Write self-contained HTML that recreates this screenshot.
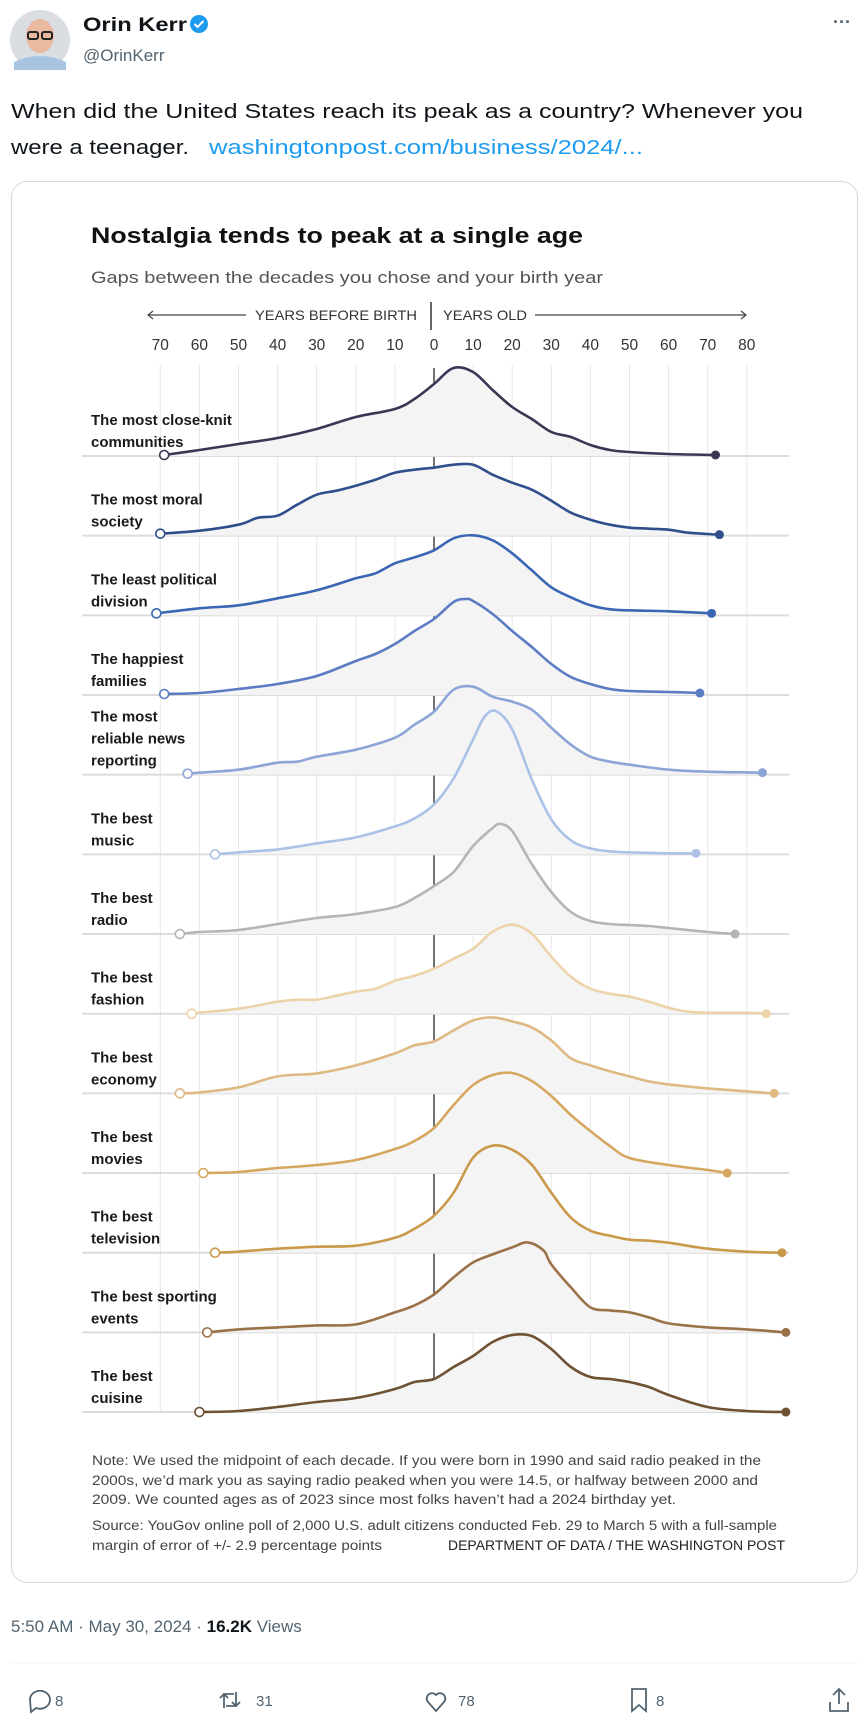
<!DOCTYPE html>
<html><head><meta charset="utf-8"><style>
html,body{margin:0;padding:0;background:#fff;}
svg{display:block;font-family:"Liberation Sans",sans-serif;}
</style></head><body>
<svg id="root" width="868" height="1725" viewBox="0 0 868 1725" xmlns="http://www.w3.org/2000/svg">
<g>
  <g>
    <circle cx="40" cy="40" r="30" fill="#d9dde2"/>
    <ellipse cx="40" cy="36" rx="14" ry="17" fill="#e9b9a0"/>
    <path d="M14 62 Q40 50 66 62 L66 70 L14 70Z" fill="#a9c4e0"/>
    <rect x="28" y="32" width="10" height="7" rx="2" fill="none" stroke="#222" stroke-width="2"/>
    <rect x="42" y="32" width="10" height="7" rx="2" fill="none" stroke="#222" stroke-width="2"/>
  </g>
  <text x="83" y="31" font-size="19" font-weight="bold" fill="#0f1419" textLength="104" lengthAdjust="spacingAndGlyphs">Orin Kerr</text>
  <g>
    <circle cx="199" cy="24" r="9" fill="#1d9bf0"/>
    <path d="M194.5 24 l3 3 l6 -6" stroke="#fff" stroke-width="2" fill="none"/>
  </g>
  <text x="83" y="61" font-size="17" fill="#536471">@OrinKerr</text>
  <text x="842" y="28" font-size="18" fill="#536471" text-anchor="middle" font-weight="bold">···</text>
</g>
<g>
  <text x="11" y="118" font-size="20.5" fill="#0f1419" textLength="792" lengthAdjust="spacingAndGlyphs">When did the United States reach its peak as a country? Whenever you</text>
  <text x="11" y="154" font-size="20.5" fill="#0f1419" textLength="178" lengthAdjust="spacingAndGlyphs">were a teenager.</text>
  <text x="209" y="154" font-size="20.5" fill="#1d9bf0" textLength="434" lengthAdjust="spacingAndGlyphs">washingtonpost.com/business/2024/...</text>
</g>
<rect x="11.5" y="181.5" width="846" height="1401" rx="16" fill="#fff" stroke="#cfd9de"/>
<g id="chart">
  <text x="91" y="243" font-size="22" font-weight="bold" fill="#111" textLength="492" lengthAdjust="spacingAndGlyphs">Nostalgia tends to peak at a single age</text>
  <text x="91" y="283" font-size="16.5" fill="#555" textLength="512" lengthAdjust="spacingAndGlyphs">Gaps between the decades you chose and your birth year</text>
  <g stroke="#444" stroke-width="1.2" fill="none">
    <line x1="148" y1="315" x2="246" y2="315"/>
    <path d="M153 311 L148 315 L153 319"/>
    <line x1="431" y1="302" x2="431" y2="330" stroke="#333" stroke-width="1.5"/>
    <line x1="535" y1="315" x2="746" y2="315"/>
    <path d="M741 311 L746 315 L741 319"/>
  </g>
  <text x="255" y="320" font-size="14" fill="#333" textLength="162" lengthAdjust="spacingAndGlyphs">YEARS BEFORE BIRTH</text>
  <text x="443" y="320" font-size="14" fill="#333" textLength="84" lengthAdjust="spacingAndGlyphs">YEARS OLD</text>
  <g id="grid"></g>
  <g id="ticks"></g>
  <g id="rows"></g>
  <g font-size="13.5" fill="#444">
    <text x="92" y="1465" textLength="669" lengthAdjust="spacingAndGlyphs">Note: We used the midpoint of each decade. If you were born in 1990 and said radio peaked in the</text>
    <text x="92" y="1485" textLength="666" lengthAdjust="spacingAndGlyphs">2000s, we’d mark you as saying radio peaked when you were 14.5, or halfway between 2000 and</text>
    <text x="92" y="1504" textLength="584" lengthAdjust="spacingAndGlyphs">2009. We counted ages as of 2023 since most folks haven’t had a 2024 birthday yet.</text>
    <text x="92" y="1530" textLength="685" lengthAdjust="spacingAndGlyphs">Source: YouGov online poll of 2,000 U.S. adult citizens conducted Feb. 29 to March 5 with a full-sample</text>
    <text x="92" y="1550" textLength="290" lengthAdjust="spacingAndGlyphs">margin of error of +/- 2.9 percentage points</text>
    <text x="448" y="1550" textLength="337" lengthAdjust="spacingAndGlyphs" fill="#222">DEPARTMENT OF DATA / THE WASHINGTON POST</text>
  </g>
</g>
<text x="11" y="1632" font-size="17" fill="#536471">5:50 AM · May 30, 2024 · <tspan font-weight="bold" fill="#0f1419">16.2K</tspan> Views</text>
<line x1="11" y1="1663" x2="858" y2="1663" stroke="#eff3f4"/>
<g fill="none" stroke="#536471" stroke-width="1.8" font-size="15">
  <g>
    <path d="M30 1700 a10 9 0 1 1 6 8 l-5 4 z"/>
    <text x="55" y="1706" fill="#536471" stroke="none">8</text>
  </g>
  <g>
    <path d="M224 1708 v-14 h10 M220 1698 l4 -4 l4 4 M236 1692 v14 h-10 M240 1702 l-4 4 l-4 -4"/>
    <text x="256" y="1706" fill="#536471" stroke="none">31</text>
  </g>
  <g>
    <path d="M436 1711 l-8 -9 a5 5 0 0 1 8 -7 a5 5 0 0 1 8 7 z"/>
    <text x="458" y="1706" fill="#536471" stroke="none">78</text>
  </g>
  <g>
    <path d="M632 1689 h14 v22 l-7 -6 l-7 6 z"/>
    <text x="656" y="1706" fill="#536471" stroke="none">8</text>
  </g>
  <g>
    <path d="M839 1689 v15 M833 1695 l6 -6 l6 6 M830 1702 v9 h18 v-9"/>
  </g>
</g>
</svg>
<script>
const NS='http://www.w3.org/2000/svg';
const rowLabels=[["The most close-knit","communities"],["The most moral","society"],["The least political","division"],["The happiest","families"],["The most","reliable news","reporting"],["The best","music"],["The best","radio"],["The best","fashion"],["The best","economy"],["The best","movies"],["The best","television"],["The best sporting","events"],["The best","cuisine"]];
const rowColors=["#3b3653","#2f4f8c","#3a66b3","#5b7bc3","#8da4d7","#abc1e7","#b5b5b5","#edd3aa","#dfb883","#d5a75f","#c99a4b","#9b7148","#6f5134"];
const tickValues=[-70,-60,-50,-40,-30,-20,-10,0,10,20,30,40,50,60,70,80];
const tickLabels=["70","60","50","40","30","20","10","0","10","20","30","40","50","60","70","80"];
const seriesYears=[
[-69,-60,-50,-40,-30,-20,-10,-5,0,5,10,15,20,25,30,35,40,45,50,60,72],
[-70,-60,-50,-45,-40,-35,-30,-25,-20,-15,-10,-5,0,5,10,15,20,25,30,35,40,45,50,55,60,65,73],
[-71,-60,-50,-40,-30,-20,-15,-10,-5,0,5,10,15,20,25,30,35,40,45,50,60,71],
[-69,-60,-50,-40,-30,-20,-15,-10,-5,0,5,8,10,15,20,25,30,35,40,45,50,60,68],
[-63,-60,-50,-40,-35,-30,-20,-10,-5,0,5,10,15,20,25,30,35,40,45,50,60,70,84],
[-56,-50,-40,-30,-20,-10,-5,0,5,10,13,16,20,25,30,35,40,45,50,60,67],
[-65,-60,-50,-40,-30,-20,-10,-5,0,5,10,15,17,20,25,30,35,40,45,50,55,60,70,77],
[-62,-60,-50,-40,-35,-30,-25,-20,-15,-10,-5,0,5,10,15,20,25,30,35,40,45,50,55,60,65,70,80,85],
[-65,-60,-50,-40,-30,-20,-10,-5,0,5,10,15,20,25,30,35,40,45,50,55,60,70,80,87],
[-59,-50,-40,-30,-20,-10,-5,0,5,10,15,20,25,30,35,40,45,50,60,70,75],
[-56,-50,-40,-30,-20,-10,-5,0,5,10,15,20,25,30,35,40,45,50,55,60,70,80,89],
[-58,-50,-40,-30,-20,-10,-5,0,5,10,15,20,24,28,30,35,40,45,50,55,60,70,80,90],
[-60,-50,-40,-30,-20,-10,-5,0,5,10,15,20,25,30,35,40,45,50,55,60,70,80,90]];
const seriesValues=[
[1,6,12,18,27,39,47,57,72,88,84,66,49,37,24,19,11,6,4,2,1],
[2,5,11,18,20,31,41,45,50,56,63,66,68,71,71,61,53,46,35,23,16,11,8,7,6,3,1],
[2,7,10,17,25,37,42,52,58,65,77,80,75,62,45,28,18,10,6,5,4,2],
[1,2,6,11,19,34,41,51,64,76,93,96,94,81,64,48,31,18,11,6,4,3,2],
[1,2,5,12,13,18,25,37,50,63,85,88,78,73,65,47,30,18,13,10,5,3,2],
[0,2,5,11,17,28,36,50,76,115,138,143,125,75,35,14,6,3,2,1,1],
[0,2,4,10,16,20,27,36,48,62,88,106,110,103,70,42,22,13,10,9,8,6,2,0],
[0,1,5,12,14,14,18,22,25,33,38,45,55,65,82,89,80,57,37,25,20,17,12,6,2,1,1,0],
[0,1,6,17,20,28,40,48,52,63,73,76,72,66,53,35,28,22,17,12,9,5,2,0],
[0,1,5,8,13,24,32,45,68,88,98,100,92,77,58,42,27,15,8,3,0],
[0,1,4,6,7,15,24,37,60,95,107,103,88,60,35,22,17,13,12,10,4,1,0],
[0,3,5,7,8,20,27,38,55,70,78,85,90,82,68,45,25,22,20,15,9,5,3,0],
[0,1,5,10,14,23,30,33,45,56,70,77,76,63,45,35,33,30,25,17,5,1,0]];

const X0=434, PX_PER_YEAR=3.91, BASE0=456, ROW_GAP=79.67;
const xScale=v=>X0+v*PX_PER_YEAR;
const yScale=(row,v)=>BASE0+row*ROW_GAP-v;

function mk(tag,attrs,parent){const e=document.createElementNS(NS,tag);for(const k in attrs)e.setAttribute(k,attrs[k]);parent.appendChild(e);return e;}
const grid=document.getElementById('grid');
const ticks=document.getElementById('ticks');
const rows=document.getElementById('rows');
const lastBase=yScale(rowLabels.length-1,0);
tickValues.forEach((t,i)=>{
  if(t!==0){const gl=mk('line',{x1:xScale(t),x2:xScale(t),y1:365,y2:lastBase,stroke:'#e8e8e8','stroke-width':1},grid);
  
  }
  const tx=mk('text',{x:xScale(t),y:350,'font-size':15.5,fill:'#333','text-anchor':'middle'},ticks);
  tx.textContent=tickLabels[i];
  
  
});
const zl=mk('line',{x1:xScale(0),x2:xScale(0),y1:368,y2:lastBase,stroke:'#444','stroke-width':1.5},grid);



function smooth(pts){
  let d='M'+pts[0][0]+' '+pts[0][1];
  for(let i=0;i<pts.length-1;i++){
    const p0=pts[i-1]||pts[i],p1=pts[i],p2=pts[i+1],p3=pts[i+2]||p2;
    const c1x=p1[0]+(p2[0]-p0[0])/6,c1y=p1[1]+(p2[1]-p0[1])/6;
    const c2x=p2[0]-(p3[0]-p1[0])/6,c2y=p2[1]-(p3[1]-p1[1])/6;
    d+=' C'+c1x.toFixed(1)+' '+c1y.toFixed(1)+' '+c2x.toFixed(1)+' '+c2y.toFixed(1)+' '+p2[0].toFixed(1)+' '+p2[1].toFixed(1);
  }
  return d;
}
rowLabels.forEach((lab,r)=>{
  const g=mk('g',{},rows);
  
  
  const base=yScale(r,0);
  const bl=mk('line',{x1:82,x2:789,y1:base,y2:base,stroke:'#dcdcdc','stroke-width':2},g);
  
  
  const pts=seriesYears[r].map((yr,i)=>[xScale(yr),yScale(r,seriesValues[r][i])]);
  const line=smooth(pts);
  const area=mk('path',{d:line+' L'+pts[pts.length-1][0]+' '+base+' L'+pts[0][0]+' '+base+' Z',fill:'#f4f4f4'},g);
  
  
  const ln=mk('path',{d:line,fill:'none',stroke:rowColors[r],'stroke-width':2.6,'stroke-linejoin':'round'},g);
  
  
  const s=mk('circle',{cx:pts[0][0],cy:pts[0][1],r:4.5,fill:'#fff',stroke:rowColors[r],'stroke-width':1.6},g);
  
  
  const e=mk('circle',{cx:pts[pts.length-1][0],cy:pts[pts.length-1][1],r:4.5,fill:rowColors[r]},g);
  
  
  const n=lab.length;
  lab.forEach((t,k)=>{
    const tx=mk('text',{x:91,y:base-9-(n-1-k)*22,'font-size':15,'font-weight':'bold',fill:'#1a1a1a'},g);
    tx.textContent=t;
    
    
  });
});
</script>
</body></html>
